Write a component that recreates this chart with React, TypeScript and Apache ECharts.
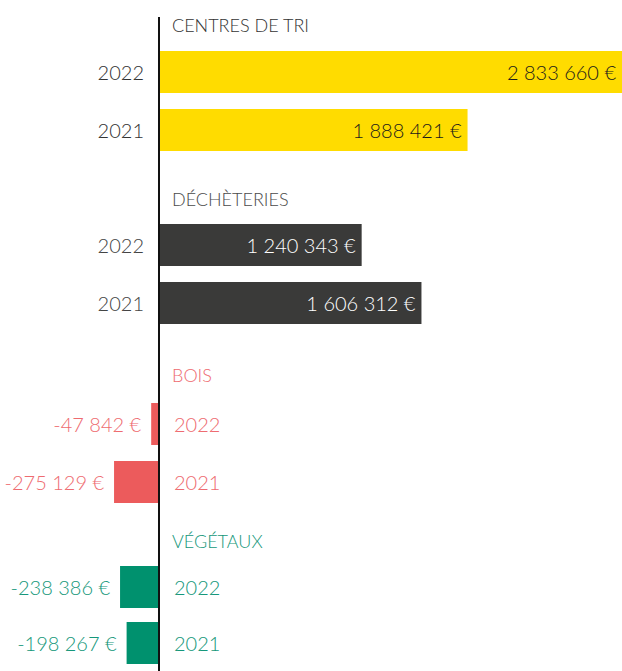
import React, { useEffect, useRef } from "react";
import * as echarts from "echarts";

const years = ["2022", "2021"];
const sectionTitles = ["CENTRES DE TRI", "DÉCHÈTERIES", "BOIS", "VÉGÉTAUX"];
const centresDeTri = [2833660, 1888421];
const decheteries = [1240343, 1606312];
const bois = [-47842, -275129];
const vegetaux = [-238386, -198267];

const sectionValues = [centresDeTri, decheteries, bois, vegetaux];
const barColors = ["#FFDC00", "#3A3A39", "#EC5B5C", "#00916E"];
const titleColors = ["#333333", "#4A4A4A", "#EE6B70", "#15977A"];
const yearColors = ["#333333", "#444444", "#EE6B70", "#15977A"];
const valueLabelColors = ["#1A1A1A", "#FFFFFF", "#EE6B70", "#15977A"];

const gridTops = [43, 216, 395, 559];
const gridHeights = [116, 116, 116, 112];
const titleY = [25, 199, 375, 541];

const FONT = "Lato, 'Open Sans', sans-serif";

function fmt(v: number): string {
  const s = Math.abs(Math.round(v)).toString().replace(/\B(?=(\d{3})+(?!\d))/g, " ");
  return (v < 0 ? "-" : "") + s + " €";
}

export default function App() {
  const ref = useRef<HTMLDivElement>(null);
  useEffect(() => {
    if (!ref.current) return;
    const chart = echarts.init(ref.current, undefined, { renderer: "svg" });
    const xMax = 2833660;
    const xMin = -973110;
    const grids = gridTops.map((t, i) => ({
      left: 0,
      right: 0,
      top: t,
      height: gridHeights[i],
      containLabel: false,
      outerBoundsMode: "none",
    }));
    const xAxes = gridTops.map((_, i) => ({
      type: "value",
      gridIndex: i,
      min: xMin,
      max: xMax,
      show: false,
    }));
    const makeYAxes = (offset: number) =>
      gridTops.map((_, i) => {
        const negative = sectionValues[i][0] < 0;
        return {
          type: "category",
          gridIndex: i,
          data: years,
          inverse: true,
          position: "left",
          offset,
          axisLine: { show: false, onZero: false },
          axisTick: { show: false },
          axisLabel: {
            inside: negative,
            margin: 15,
            color: yearColors[i],
            fontFamily: FONT,
            fontWeight: 300,
            fontSize: 20,
          },
        };
      });
    const series = sectionValues.map((vals, i) => {
      const negative = vals[0] < 0;
      return {
        type: "bar",
        xAxisIndex: i,
        yAxisIndex: i,
        data: vals,
        barWidth: 42,
        itemStyle: { color: barColors[i] },
        label: {
          show: true,
          position: negative ? "left" : "insideRight",
          distance: negative ? 10 : 6,
          color: valueLabelColors[i],
          fontFamily: FONT,
          fontWeight: 300,
          fontSize: 20,
          formatter: (p: any) => fmt(p.value),
        },
      };
    });
    const titles = sectionTitles.map((t, i) => ({
      type: "text",
      x: 172,
      y: titleY[i],
      style: {
        text: t,
        fill: titleColors[i],
        font: `300 18px ${FONT}`,
        verticalAlign: "middle",
      },
    }));
    chart.setOption({
      animation: false,
      grid: grids,
      xAxis: xAxes,
      yAxis: makeYAxes(0),
      series,
      graphic: titles,
    });
    const zx = chart.convertToPixel({ xAxisIndex: 0 }, 0) as number;
    chart.setOption({
      yAxis: makeYAxes(-zx),
      graphic: [
        ...titles,
        {
          type: "line",
          shape: { x1: zx, y1: 17, x2: zx, y2: 671 },
          style: { stroke: "#111111", lineWidth: 2 },
          z: 100,
        },
      ],
    });
    return () => chart.dispose();
  }, []);
  return (
    <div
      ref={ref}
      style={{ position: "fixed", left: 0, top: 0, width: 622, height: 671, background: "#fff" }}
    />
  );
}
